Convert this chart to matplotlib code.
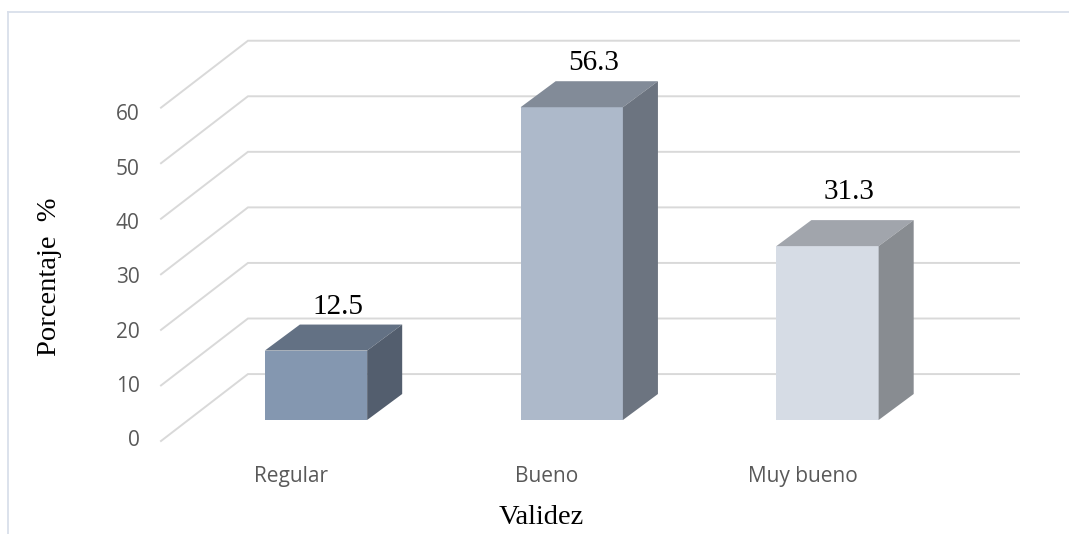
import matplotlib
matplotlib.use('Agg')
import matplotlib.pyplot as plt
from matplotlib.patches import Polygon

# Datos del grafico
categorias = ['Regular', 'Bueno', 'Muy bueno']
porcentajes = [12.5, 56.3, 31.3]
ticks_y = [0, 10, 20, 30, 40, 50, 60]

# front, top and side colours of each 3D box
COLOR_FRENTE = ['#8497b0', '#adb9ca', '#d6dce5']
COLOR_TECHO = ['#637184', '#828b98', '#a1a5ac']
COLOR_LADO = ['#535e6e', '#6c7480', '#888c91']
COLOR_GRID = '#d9d9d9'
COLOR_MARCO = '#d9dfea'
COLOR_TEXTO = '#595959'

W, H = 1069, 534
ANCHO = 0.40        # bar width, in category units
PARED_X, PARED_Y = 0.34, 12.05   # floor depth of the back wall
BASE_Y = 3.78       # front of the bar above the floor edge
CAJA_X, CAJA_Y = 0.137, 4.68     # depth of each box
ETIQUETA_DY = [0.0, 0.0, 1.9]    # extra lift of the value labels

fig = plt.figure(figsize=(W / 100, H / 100), dpi=100)

# thin frame of the chart area, no right or bottom side
fig.add_artist(plt.Line2D([7.5 / W, 7.5 / W], [0, 1 - 11.5 / H], color=COLOR_MARCO, lw=1.3))
fig.add_artist(plt.Line2D([7.5 / W, 1], [1 - 11.5 / H, 1 - 11.5 / H], color=COLOR_MARCO, lw=1.3))

ax = fig.add_axes([161 / W, 1 - 441 / H, (1019 - 161) / W, 400 / H])
ax.set_xlim((161 - 316) / 255.75, (1019 - 316) / 255.75)
ax.set_ylim(0, 72)
ax.axis('off')

xmin = ax.get_xlim()[0]
xmax = ax.get_xlim()[1]
for t in ticks_y:
    ax.plot([xmin, xmin + PARED_X, xmax], [t, t + PARED_Y, t + PARED_Y],
            color=COLOR_GRID, lw=1.4, solid_joinstyle='miter', clip_on=False, zorder=1)
    # the tick labels sit a little tighter than the gridlines
    ax.text(xmin - 0.084, t * 0.977 + 0.06, str(t), ha='right', va='center',
            fontsize=15, family='Open Sans', color=COLOR_TEXTO)

for i, (cat, val) in enumerate(zip(categorias, porcentajes)):
    x0 = i - ANCHO / 2
    x1 = i + ANCHO / 2
    y0 = BASE_Y
    y1 = BASE_Y + val
    frente = [(x0, y0), (x1, y0), (x1, y1), (x0, y1)]
    techo = [(x0, y1), (x1, y1), (x1 + CAJA_X, y1 + CAJA_Y), (x0 + CAJA_X, y1 + CAJA_Y)]
    lado = [(x1, y0), (x1 + CAJA_X, y0 + CAJA_Y), (x1 + CAJA_X, y1 + CAJA_Y), (x1, y1)]
    ax.add_patch(Polygon(frente, fc=COLOR_FRENTE[i], ec='none', zorder=3))
    ax.add_patch(Polygon(techo, fc=COLOR_TECHO[i], ec='none', zorder=3))
    ax.add_patch(Polygon(lado, fc=COLOR_LADO[i], ec='none', zorder=3))
    ax.text(i + 0.086, y1 + CAJA_Y + 0.9 + ETIQUETA_DY[i], str(val), ha='center', va='bottom',
            fontsize=21, family='Liberation Serif', color='black')
    ax.text(i - 0.098, -6.4, cat, ha='center', va='center',
            fontsize=15, family='Open Sans', color=COLOR_TEXTO)

fig.text(50 / W, 1 - 277 / H, 'Porcentaje  %', rotation=90, ha='center', va='center',
         fontsize=20.5, family='Liberation Serif', color='black')
fig.text(541 / W, 1 - 517 / H, 'Validez', ha='center', va='center',
         fontsize=20.5, family='Liberation Serif', color='black')

fig.savefig('out.png', dpi=100)
